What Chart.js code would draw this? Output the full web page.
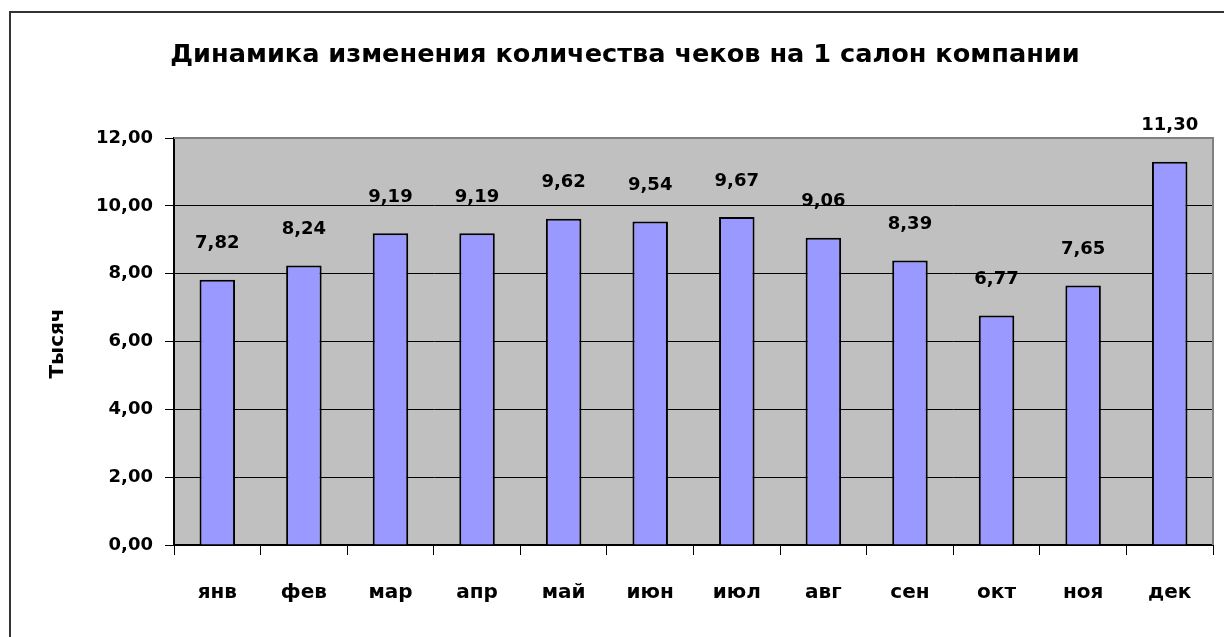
<!DOCTYPE html>
<html>
<head>
<meta charset="utf-8">
<script src="https://cdn.jsdelivr.net/npm/chart.js@4/dist/chart.umd.min.js"></script>
<style>
html,body{margin:0;padding:0;background:#fff;}
canvas{display:block;}
</style>
</head>
<body>
<canvas id="c" width="1224" height="637"></canvas>
<script>
const titleText = 'Динамика изменения количества чеков на 1 салон компании';
const yAxisTitle = 'Тысяч';
const categories = ['янв','фев','мар','апр','май','июн','июл','авг','сен','окт','ноя','дек'];
const values = [7.82, 8.24, 9.19, 9.19, 9.62, 9.54, 9.67, 9.06, 8.39, 6.77, 7.65, 11.30];
const yTicks = [0, 2, 4, 6, 8, 10, 12];

const FONT = '"DejaVu Sans", sans-serif';
const fmt = v => v.toFixed(2).replace('.', ',');

const decor = {
  id: 'decor',
  beforeDraw(chart) {
    const {ctx, chartArea: a} = chart;
    ctx.save();
    ctx.fillStyle = '#fff';
    ctx.fillRect(0, 0, chart.width, chart.height);
    // outer frame (right/bottom fall outside the canvas)
    ctx.strokeStyle = '#333';
    ctx.lineWidth = 2;
    ctx.strokeRect(10, 12, chart.width + 20, chart.height + 20);
    // plot background
    ctx.fillStyle = '#c0c0c0';
    ctx.fillRect(a.left, a.top, a.right - a.left, a.bottom - a.top);
    ctx.restore();
  },
  afterDraw(chart) {
    const {ctx, chartArea: a} = chart;
    ctx.save();
    // plot border top & right (gray)
    ctx.strokeStyle = '#808080';
    ctx.lineWidth = 2;
    ctx.beginPath();
    ctx.moveTo(a.left, a.top);
    ctx.lineTo(a.right, a.top);
    ctx.lineTo(a.right, a.bottom);
    ctx.stroke();
    // title
    ctx.fillStyle = '#000';
    ctx.font = 'bold 25.6px ' + FONT;
    ctx.textAlign = 'center';
    ctx.textBaseline = 'middle';
    ctx.fillText(titleText, 625, 55);
    // y title
    ctx.save();
    ctx.translate(58, (a.top + a.bottom) / 2 + 2);
    ctx.rotate(-Math.PI / 2);
    ctx.font = 'bold 20px ' + FONT;
    ctx.fillText(yAxisTitle, 0, 0);
    ctx.restore();
    // data labels
    const meta = chart.getDatasetMeta(0);
    ctx.font = 'bold 18px ' + FONT;
    meta.data.forEach((bar, i) => {
      ctx.fillText(fmt(values[i]), bar.x, bar.y - 36);
    });
    ctx.restore();
  }
};

new Chart(document.getElementById('c'), {
  type: 'bar',
  data: {
    labels: categories,
    datasets: [{
      data: values,
      backgroundColor: '#9999ff',
      borderColor: '#000',
      borderWidth: 2,
      barPercentage: 0.41,
      categoryPercentage: 1.0
    }]
  },
  options: {
    responsive: false,
    animation: false,
    devicePixelRatio: 1,
    layout: {padding: {top: 138, right: 11, left: 0, bottom: 0}},
    plugins: {legend: {display: false}, tooltip: {enabled: false}, title: {display: false}},
    scales: {
      x: {
        offset: true,
        grid: {display: true, offset: true, drawOnChartArea: false, drawTicks: true, tickLength: 10, color: '#000', lineWidth: 1},
        border: {display: true, color: '#000', width: 2},
        ticks: {color: '#000', font: {family: FONT, weight: 'bold', size: 20}, padding: 26},
        afterFit(s) { s.height = 637 - 545; }
      },
      y: {
        min: 0, max: 12,
        afterBuildTicks(s) { s.ticks = yTicks.map(v => ({value: v})); },
        grid: {color: '#000', lineWidth: 1, drawTicks: true, tickLength: 9},
        border: {display: true, color: '#000', width: 2},
        ticks: {color: '#000', font: {family: FONT, weight: 'bold', size: 18}, padding: 12, callback: v => fmt(v)},
        afterFit(s) { s.width = 174; }
      }
    }
  },
  plugins: [decor]
});
</script>
</body>
</html>
